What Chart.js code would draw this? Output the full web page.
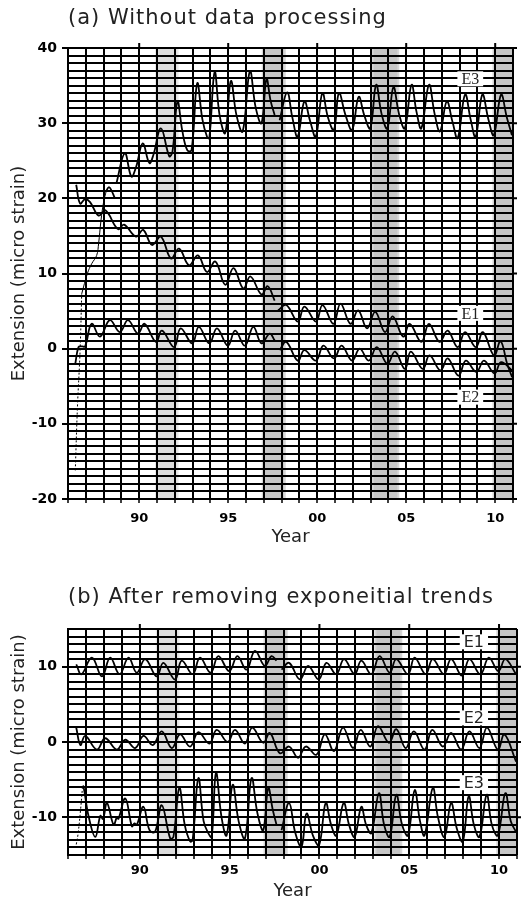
<!DOCTYPE html>
<html>
<head>
<meta charset="utf-8">
<script src="https://cdn.jsdelivr.net/npm/chart.js@4.4.1/dist/chart.umd.min.js"></script>
<style>
  body { margin: 0; background: #fff; width: 521px; height: 904px; overflow: hidden; position: relative; }
  .title { position: absolute; z-index: 2; left: 68px; font-family: "DejaVu Sans", sans-serif; font-size: 21px; letter-spacing: 1px; color: #222; white-space: nowrap; line-height: 1; }
  #boxA { position: absolute; left: 0; top: 0; width: 521px; height: 550px; }
  #boxB { position: absolute; left: 0; top: 550px; width: 521px; height: 354px; }
</style>
</head>
<body>
<div id="boxA"><canvas id="chartA"></canvas></div>
<div id="boxB"><canvas id="chartB"></canvas></div>
<div class="title" style="top:7px">(a) Without data processing</div>
<div class="title" style="top:586px">(b) After removing exponeitial trends</div>
<script>
// x range (years) and shaded periods
const xMin = 1986, xMax = 2011;
const bandStart = [1991.0, 1997.0, 2003.17, 2009.96];
const bandEnd = [1992.1, 1998.12, 2004.5, 2011.0];

// (a) raw records, [year, micro strain]
const e1a = [[1986.46,21.8],[1986.68,19.3],[1986.96,19.9],[1987.24,19.5],[1987.72,17.7],[1988.1,18.4],[1988.81,15.9],[1989.15,16.5],
  [1989.82,14.9],[1990.22,15.8],[1990.72,13.8],[1991.22,14.9],[1991.78,12.0],[1992.24,13.3],[1992.8,11.1],[1993.3,12.4],
  [1993.81,10.2],[1994.28,11.6],[1994.83,8.5],[1995.3,10.7],[1995.85,8.0],[1996.25,9.6],[1996.87,7.2],[1997.22,8.3],
  [1997.61,6.4],[1997.7,null],[1997.8,5.1],[1998.26,5.8],[1998.91,3.6],[1999.28,5.6],[1999.93,3.6],[2000.3,5.8],
  [2000.91,3.3],[2001.31,6.0],[2001.87,3.3],[2002.3,5.1],[2002.8,2.7],[2003.26,4.9],[2003.81,2.2],[2004.24,4.3],
  [2004.83,1.6],[2005.2,3.3],[2005.85,0.9],[2006.28,3.3],[2006.87,0.9],[2007.33,2.4],[2007.89,0.2],[2008.31,2.2],
  [2008.91,0.2],[2009.31,2.2],[2009.93,-0.9],[2010.3,1.0],[2010.67,-2.0],[2010.95,-3.8]];
const e2a = [[1986.41,-2.0],[1986.59,0.2],[1986.78,0.3],[1986.96,0.3],[1987.33,3.3],[1987.8,1.6],[1988.35,3.8],[1988.91,2.2],
  [1989.37,3.8],[1989.93,2.0],[1990.3,3.3],[1990.94,0.9],[1991.28,2.4],[1991.96,0.2],[1992.33,2.7],[1992.98,0.7],
  [1993.35,2.9],[1993.94,0.7],[1994.37,2.7],[1994.98,0.4],[1995.39,2.4],[1995.94,0.4],[1996.41,2.9],[1996.87,0.7],
  [1997.33,2.0],[1997.61,1.1],[1997.7,null],[1997.89,-0.2],[1998.26,0.9],[1998.91,-1.6],[1999.28,-0.2],[1999.93,-1.6],
  [2000.35,0.4],[2000.94,-1.3],[2001.37,0.4],[2001.96,-1.6],[2002.39,0.0],[2002.89,-1.6],[2003.35,0.2],[2003.94,-2.0],
  [2004.37,-0.4],[2004.93,-2.7],[2005.26,-0.4],[2005.93,-2.7],[2006.31,-0.9],[2006.93,-2.9],[2007.33,-1.3],[2007.94,-3.6],
  [2008.35,-1.6],[2008.94,-3.1],[2009.37,-1.6],[2009.96,-3.3],[2010.33,-1.8],[2010.95,-2.9]];
const e3aDotted = [[1986.41,-16.2],[1986.53,-7.8],[1986.68,-0.2],[1986.77,7.3]];
const e3aThin = [[1986.77,7.3],[1987.09,10.0],[1987.33,11.3],[1987.61,12.4],[1987.72,14.0],[1987.85,17.0],[1988.0,19.5],[1988.15,21.0]];
const e3a = [[1988.15,21.0],[1988.3,21.5],[1988.45,21.0],[1988.62,20.1],[1988.67,null],[1988.72,22.0],[1989.19,26.0],[1989.56,22.9],
  [1989.83,24.2],[1990.2,27.3],[1990.57,24.7],[1990.8,25.8],[1991.22,29.3],[1991.69,25.6],[1991.87,26.2],[1992.15,32.9],
  [1992.42,29.0],[1992.7,26.4],[1992.94,26.4],[1993.26,35.3],[1993.55,30.5],[1993.81,28.2],[1993.94,28.0],[1994.24,36.8],
  [1994.52,31.0],[1994.83,28.7],[1995.15,35.6],[1995.47,31.0],[1995.81,28.9],[1996.22,36.9],[1996.55,32.0],[1996.87,30.0],
  [1997.15,35.9],[1997.38,33.0],[1997.61,31.1],[1997.7,null],[1997.89,30.4],[1998.31,34.1],[1998.6,30.8],[1998.9,28.2],
  [1999.28,32.9],[1999.6,30.3],[1999.92,28.2],[2000.29,34.0],[2000.6,30.8],[2000.94,29.1],[2001.22,34.0],[2001.6,31.0],
  [2001.96,29.1],[2002.33,33.5],[2002.65,31.0],[2002.98,29.3],[2003.31,35.1],[2003.62,31.2],[2003.94,29.3],[2004.28,34.8],
  [2004.6,31.2],[2004.92,29.3],[2005.3,35.1],[2005.58,31.5],[2005.85,29.3],[2006.28,35.1],[2006.6,31.2],[2006.9,28.9],
  [2007.28,32.9],[2007.6,30.2],[2007.89,28.0],[2008.31,33.8],[2008.62,30.5],[2008.9,28.2],[2009.28,33.8],[2009.62,30.5],
  [2009.92,28.4],[2010.33,33.8],[2010.65,30.8],[2010.94,28.4]];

// (b) after removing exponential trends
const e1b = [[1986.46,10.3],[1986.75,9.0],[1987.33,11.2],[1987.89,8.7],[1988.35,11.2],[1988.87,9.0],[1989.37,11.2],[1989.83,9.2],
  [1990.3,11.0],[1990.94,8.7],[1991.31,10.5],[1991.96,8.3],[1992.33,10.8],[1992.94,9.0],[1993.35,11.2],[1993.94,9.2],
  [1994.37,11.4],[1994.98,9.4],[1995.43,11.4],[1995.94,9.6],[1996.41,12.1],[1996.96,10.1],[1997.33,11.4],[1997.61,10.8],
  [1997.75,null],[1997.89,9.6],[1998.31,10.5],[1998.91,8.3],[1999.37,10.1],[1999.96,8.3],[2000.39,10.5],[2000.94,9.0],
  [2001.37,11.0],[2001.96,9.0],[2002.33,10.8],[2002.89,9.0],[2003.35,11.4],[2003.91,9.2],[2004.28,11.0],[2004.93,9.0],
  [2005.3,11.2],[2005.91,9.0],[2006.31,11.0],[2006.93,9.0],[2007.33,11.0],[2007.94,8.8],[2008.35,11.0],[2008.96,9.0],
  [2009.43,11.2],[2009.96,9.4],[2010.35,11.0],[2010.95,9.0]];
const e2b = [[1986.46,1.9],[1986.69,-0.4],[1986.96,0.8],[1987.61,-1.0],[1988.07,0.5],[1988.72,-1.0],[1989.19,0.3],[1989.74,-0.8],
  [1990.2,0.8],[1990.72,-0.4],[1991.22,1.4],[1991.78,-0.8],[1992.24,1.0],[1992.8,-0.6],[1993.26,1.3],[1993.87,-0.2],
  [1994.28,1.6],[1994.89,0.0],[1995.3,1.6],[1995.85,-0.2],[1996.26,1.9],[1996.87,-0.1],[1997.24,1.2],[1997.8,-1.5],
  [1998.31,-0.6],[1998.81,-2.1],[1999.24,-0.6],[1999.83,-1.7],[2000.3,1.0],[2000.81,-1.2],[2001.31,1.9],[2001.87,-0.8],
  [2002.3,1.6],[2002.83,-0.6],[2003.26,2.1],[2003.87,-0.1],[2004.28,1.7],[2004.8,-0.8],[2005.26,1.4],[2005.85,-1.0],
  [2006.28,1.6],[2006.87,-0.6],[2007.33,1.2],[2007.89,-1.0],[2008.35,1.4],[2008.91,-0.8],[2009.33,1.9],[2009.93,-1.0],
  [2010.3,1.0],[2010.95,-2.6]];
const e3bDotted = [[1986.46,-13.6],[1986.56,-12.2],[1986.7,-9.0],[1986.8,-6.2]];
const e3b = [[1986.8,-6.2],[1986.86,-5.9],[1987.15,-9.9],[1987.52,-12.6],[1987.8,-9.8],[1987.95,-10.2],[1988.17,-8.1],[1988.54,-11.0],
  [1988.72,-10.0],[1988.81,-10.2],[1989.19,-7.5],[1989.56,-11.2],[1989.7,-10.8],[1989.83,-11.0],[1990.2,-8.6],[1990.54,-11.7],
  [1990.85,-11.9],[1991.22,-8.4],[1991.69,-12.8],[1991.87,-12.6],[1992.2,-6.1],[1992.5,-11.0],[1992.8,-13.2],[1992.94,-13.0],
  [1993.26,-4.8],[1993.55,-10.5],[1993.81,-12.1],[1994.0,-12.6],[1994.24,-4.1],[1994.55,-10.0],[1994.83,-12.4],[1995.17,-5.7],
  [1995.5,-10.5],[1995.85,-12.8],[1996.22,-4.8],[1996.55,-9.5],[1996.87,-11.7],[1997.15,-6.1],[1997.4,-9.0],[1997.61,-11.0],
  [1997.75,null],[1997.89,-11.7],[1998.31,-8.1],[1998.65,-12.0],[1999.0,-13.9],[1999.28,-9.5],[1999.65,-12.5],[1999.98,-13.7],
  [2000.35,-8.1],[2000.65,-11.0],[2000.94,-12.4],[2001.35,-8.1],[2001.65,-11.0],[2001.96,-12.6],[2002.33,-8.6],[2002.6,-11.0],
  [2002.89,-12.1],[2003.31,-6.8],[2003.6,-11.0],[2003.91,-12.6],[2004.28,-7.0],[2004.6,-11.0],[2004.93,-12.4],[2005.3,-6.4],
  [2005.6,-10.5],[2005.85,-12.4],[2006.31,-6.1],[2006.6,-10.0],[2006.96,-12.6],[2007.33,-8.1],[2007.65,-11.5],[2007.98,-13.2],
  [2008.31,-7.2],[2008.6,-11.0],[2008.91,-12.6],[2009.31,-7.0],[2009.6,-11.0],[2009.93,-12.4],[2010.35,-6.8],[2010.65,-10.5],
  [2010.94,-11.9]];

// series names and where their tags sit
const tagYear = 2008.6;
const tagNames = ["E1", "E2", "E3"];
const tagValuesA = [4.7, -6.45, 35.9];
const tagValuesB = [13.3, 3.2, -5.4];

const xTickFont = { family: "DejaVu Sans", weight: "bold", size: 13 };
const yTickFont = { family: "DejaVu Sans", weight: "bold", size: 14 };
const axisFont = { family: "DejaVu Sans", size: 18 };

function pts(list) {
    return list.map(p => ({ x: p[0], y: p[1] }));
}

function line(list, thin) {
    return {
        data: pts(list),
        borderColor: "#000",
        borderWidth: thin ? 1 : 1.8,
        borderDash: thin === "dot" ? [2, 2] : [],
        tension: 0.4,
        pointRadius: 0,
        fill: false,
        spanGaps: false
    };
}

const bandsPlugin = {
    id: "bands",
    beforeDraw(chart) {
        const { ctx, chartArea: a, scales: { x } } = chart;
        ctx.save();
        ctx.fillStyle = "#fff";
        ctx.fillRect(0, 0, chart.width, chart.height);
        bandStart.forEach((s, i) => {
            let x0 = x.getPixelForValue(s), x1 = x.getPixelForValue(bandEnd[i]);
            ctx.fillStyle = i === 0 ? "#e8e8e8" : "#d6d6d6";
            ctx.fillRect(x0 - 2, a.top, Math.min(x1 + 2, a.right) - x0 + 2, a.bottom - a.top);
            ctx.fillStyle = i === 0 ? "#dcdcdc" : "#c6c6c6";
            ctx.fillRect(x0, a.top, x1 - x0, a.bottom - a.top);
        });
        ctx.restore();
    },
    afterDraw(chart) {
        // outward ticks on the top and right edges
        const { ctx, chartArea: a, scales: { x, y } } = chart;
        ctx.save();
        ctx.strokeStyle = "#000";
        ctx.lineWidth = 2;
        ctx.beginPath();
        for (let yr = 1990; yr <= 2010; yr += 5) {
            const px = x.getPixelForValue(yr);
            ctx.moveTo(px, a.top - 5);
            ctx.lineTo(px, a.top);
        }
        for (let v = Math.ceil(y.min / 10) * 10; v <= y.max; v += 10) {
            const py = y.getPixelForValue(v);
            ctx.moveTo(a.right, py);
            ctx.lineTo(a.right + 4, py);
        }
        ctx.stroke();
        ctx.restore();
    },
    afterDatasetsDraw(chart, args, opts) {
        const { ctx, scales: { x, y } } = chart;
        ctx.save();
        ctx.font = opts.font;
        ctx.textAlign = "center";
        ctx.textBaseline = "middle";
        opts.values.forEach((v, i) => {
            const px = x.getPixelForValue(tagYear), py = y.getPixelForValue(v);
            const w = ctx.measureText(tagNames[i]).width + 8;
            ctx.fillStyle = "#fff";
            ctx.fillRect(px - w / 2, py - 7.5, w, 15);
            ctx.fillStyle = "#222";
            ctx.fillText(tagNames[i], px, py + 1);
        });
        ctx.restore();
    }
};

function makeOptions(cfg) {
    return {
        responsive: true,
        maintainAspectRatio: false,
        animation: false,
        layout: { padding: { top: cfg.top, right: 3, left: 0, bottom: 0 } },
        plugins: {
            legend: { display: false },
            tooltip: { enabled: false },
            bands: { font: cfg.tagFont, values: cfg.tags }
        },
        scales: {
            x: {
                type: "linear",
                min: xMin,
                max: xMax,
                afterFit: s => { s.height = cfg.xHeight; },
                grid: { color: "#000", lineWidth: 2, tickLength: 4, tickColor: "#000", tickWidth: 1.5 },
                border: { display: false },
                ticks: {
                    stepSize: 1, autoSkip: false, maxRotation: 0, padding: cfg.tickPad, color: "#000", font: xTickFont,
                    callback: v => v % 5 === 0 ? String(v % 100).padStart(2, "0") : ""
                },
                title: { display: true, text: "Year", color: "#222", font: axisFont, padding: { top: 0, bottom: cfg.yearPad } }
            },
            y: {
                type: "linear",
                min: cfg.yMin,
                max: cfg.yMax,
                afterFit: s => { s.width = 68; },
                grid: {
                    color: "#000", lineWidth: 2, tickLength: 6, tickWidth: 2,
                    tickColor: c => (c.tick && c.tick.value % 10 === 0) ? "#000" : "rgba(0,0,0,0)"
                },
                border: { display: true, color: "#000", width: 2 },
                ticks: {
                    stepSize: 1, autoSkip: false, padding: 5, color: "#000", font: yTickFont,
                    callback: v => v % 10 === 0 ? String(v) : ""
                },
                title: { display: true, text: "Extension (micro strain)", color: "#222", font: axisFont, padding: { top: 9, bottom: 0 } }
            }
        }
    };
}

new Chart(document.getElementById("chartA"), {
    type: "line",
    data: { datasets: [line(e3aDotted, "dot"), line(e3aThin, true), line(e3a), line(e1a), line(e2a)] },
    options: makeOptions({ top: 48, xHeight: 51, yMin: -20, yMax: 40, tickPad: 8, yearPad: 2,
        tags: tagValuesA, tagFont: "16px 'Liberation Serif'" }),
    plugins: [bandsPlugin]
});

new Chart(document.getElementById("chartB"), {
    type: "line",
    data: { datasets: [line(e3bDotted, "dot"), line(e3b), line(e1b), line(e2b)] },
    options: makeOptions({ top: 79, xHeight: 49, yMin: -15, yMax: 15, tickPad: 4, yearPad: 1.5,
        tags: tagValuesB, tagFont: "16px 'DejaVu Sans'" }),
    plugins: [bandsPlugin]
});
</script>
</body>
</html>
